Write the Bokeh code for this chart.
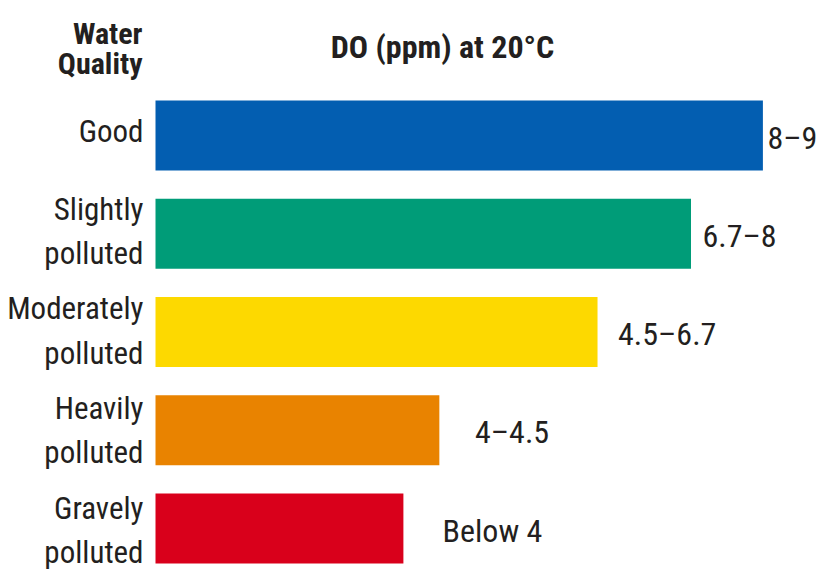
import numpy as np
from bokeh.plotting import figure
from bokeh.models import Range1d, ColumnDataSource
from bokeh.core.properties import value
from bokeh.embed import file_html
from bokeh.resources import INLINE

# ---- data ----
categories = ["Good", "Slightly\npolluted", "Moderately\npolluted", "Heavily\npolluted", "Gravely\npolluted"]
do_upper = [9, 8, 6.7, 4.5, 4]
do_labels = ["8\u20139", "6.7\u20138", "4.5\u20136.7", "4\u20134.5", "Below 4"]
colors = ["#035EB1", "#009C78", "#FDD900", "#E98300", "#D9001B"]
header_lines = ["Water", "Quality"]
title = "DO (ppm) at 20\u00b0C"

FONT = "Roboto Condensed"
TXT = "#231F20"

W, H = 817, 571
px_per_unit_x = 71.9
x0_px = 115.3               # pixel position of value 0
px_per_row = 98.25
row0_px = 135               # pixel centre of first row
n = len(categories)

x_start = -x0_px / px_per_unit_x
x_end = (W - x0_px) / px_per_unit_x
bar_left = (155 - x0_px) / px_per_unit_x
y_top = -row0_px / px_per_row
y_bottom = (n - 1) + (H - row0_px - (n - 1) * px_per_row) / px_per_row

def ydata(py):
    return y_top + py / px_per_row

def xdata(px):
    return (px - x0_px) / px_per_unit_x

rows = np.arange(n)
vals = np.array(do_upper, dtype=float)
label_x = 0.928 + 0.904 * vals          # value labels sit on a slightly compressed scale
cat_y = rows * 1.015 - 0.04             # category labels drift slightly down the page

src = ColumnDataSource(dict(
    y=rows, right=vals, color=colors, cat=categories, cat_y=cat_y,
    lab=do_labels, lab_x=label_x, left=[bar_left] * n,
))

p = figure(width=W, height=H, output_backend="svg", toolbar_location=None,
           x_range=Range1d(x_start, x_end), y_range=Range1d(y_bottom, y_top),
           min_border=0, min_border_left=0, min_border_right=0,
           min_border_top=0, min_border_bottom=0)
p.axis.visible = False
p.grid.visible = False
p.outline_line_color = None
p.background_fill_color = "white"
p.border_fill_color = "white"

p.hbar(y="y", left="left", right="right", height=0.71, fill_color="color",
       line_color=None, source=src)

p.text(x="left", y="cat_y", text="cat", source=src, x_offset=-12,
       text_align="right", text_baseline="middle", text_line_height=1.2,
       text_font=value(FONT), text_font_size="31px", text_color=TXT)

p.text(x="lab_x", y="y", text="lab", source=src, y_offset=2,
       text_align="left", text_baseline="middle",
       text_font=value(FONT), text_font_size="32px", text_color=TXT)

p.text(x=[bar_left] * 2, y=[ydata(33), ydata(63)], text=header_lines, x_offset=-13,
       text_align="right", text_baseline="alphabetic",
       text_font=value(FONT), text_font_size="30px", text_font_style="bold",
       text_color=TXT)
p.text(x=[xdata(442)], y=[ydata(46)], text=[title],
       text_align="center", text_baseline="alphabetic",
       text_font=value(FONT), text_font_size="32px", text_font_style="bold",
       text_color=TXT)

open("out.html", "w").write(file_html(p, INLINE))
